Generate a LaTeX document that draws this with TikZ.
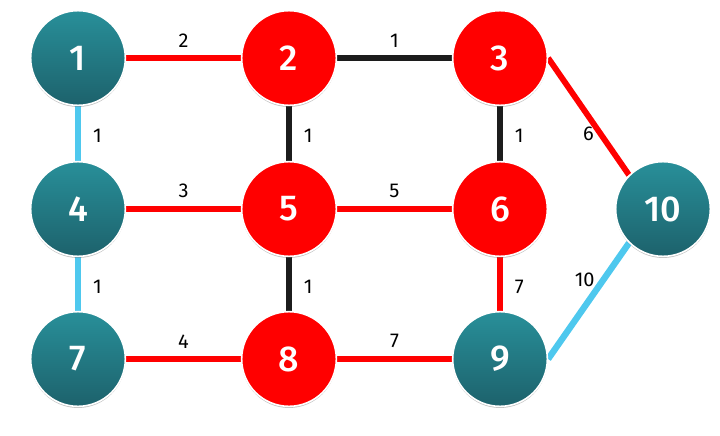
\documentclass[tikz,border=0pt]{standalone}
\usepackage{fontspec}
\setmainfont{Fira Sans}
\newfontfamily\vtxfont{Fira Sans Medium}
\usetikzlibrary{shadows,backgrounds}

\definecolor{tealtop}{RGB}{40,143,153}
\definecolor{tealbot}{RGB}{29,98,108}
\definecolor{edgered}{RGB}{255,0,0}
\definecolor{edgeblk}{RGB}{28,28,28}
\definecolor{edgeblu}{RGB}{78,200,238}

\tikzset{every picture/.style={line width=0.75pt}}
\tikzset{
  vtx/.style={circle, minimum size=71pt, inner sep=0pt, draw=white, line width=1.2pt,
    text=white, font=\vtxfont\fontsize{27}{27}\selectfont,
    drop shadow={shadow xshift=0pt, shadow yshift=-1.2pt, opacity=0.35, fill=black!70}},
  tealvtx/.style={vtx, top color=tealtop, bottom color=tealbot},
  redvtx/.style={vtx, fill=edgered},
  redline/.style={draw=edgered, line width=4.4pt},
  blkline/.style={draw=edgeblk, line width=4.4pt},
  bluline/.style={draw=edgeblu, line width=4.8pt},
  wt/.style={font=\fontsize{15}{15}\selectfont, text=black, inner sep=0pt}
}

\begin{document}
\begin{tikzpicture}[x=0.75pt,y=0.75pt,yscale=-1,xscale=1]
	\useasboundingbox (0,0) rectangle (720,435);
	
	%Shape: Circle [vertices]
	\node [tealvtx] (n1) at (78,58) {1};
	\node [redvtx] (n2) at (289,58) {2};
	\node [redvtx] (n3) at (500,58) {3};
	\node [tealvtx] (n4) at (78,209) {4};
	\node [redvtx] (n5) at (289,209) {5};
	\node [redvtx] (n6) at (500,209) {6};
	\node [tealvtx] (n7) at (78,359) {7};
	\node [redvtx] (n8) at (289,359) {8};
	\node [tealvtx] (n9) at (500,359) {9};
	\node [tealvtx] (n10) at (663,209) {10};
	
	\begin{pgfonlayer}{background}
	%Straight Lines [rows]
	\draw [redline] (n1) -- node [wt, above=6pt] (w12) {2} (n2);
	\draw [blkline] (n2) -- node [wt, above=6pt] (w23) {1} (n3);
	\draw [redline] (n4) -- node [wt, above=6pt] (w45) {3} (n5);
	\draw [redline] (n5) -- node [wt, above=6pt] (w56) {5} (n6);
	\draw [redline] (n7) -- node [wt, above=6pt] (w78) {4} (n8);
	\draw [redline] (n8) -- node [wt, above=6pt] (w89) {7} (n9);
	%Straight Lines [columns]
	\draw [bluline] (n1) -- node [wt, pos=0.55, right=9pt] (w14) {1} (n4);
	\draw [bluline] (n4) -- node [wt, pos=0.55, right=9pt] (w47) {1} (n7);
	\draw [blkline] (n2) -- node [wt, pos=0.55, right=9pt] (w25) {1} (n5);
	\draw [blkline] (n5) -- node [wt, pos=0.55, right=9pt] (w58) {1} (n8);
	\draw [blkline] (n3) -- node [wt, pos=0.55, right=9pt] (w36) {1} (n6);
	\draw [redline] (n6) -- node [wt, pos=0.55, right=9pt] (w69) {7} (n9);
	%Straight Lines [diagonals]
	\draw [redline] (n3.east) -- node [wt, pos=0.65, left=3pt] (w310) {6} (n10.135);
	\draw [bluline] (n9.east) -- node [wt, pos=0.68, left=4pt] (w910) {10} (n10.225);
	\end{pgfonlayer}
	
\end{tikzpicture}
\end{document}
